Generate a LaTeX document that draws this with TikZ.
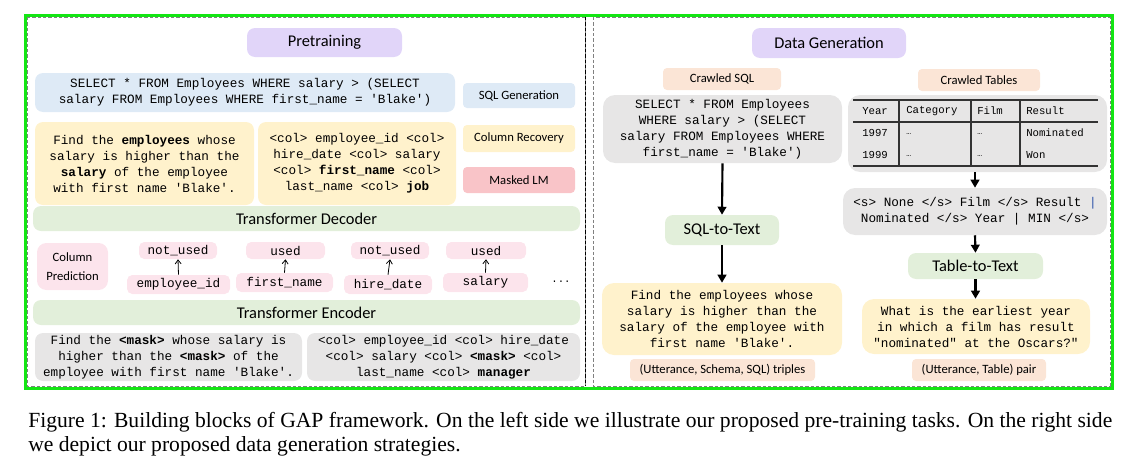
\documentclass[tikz,border=0pt]{standalone}
\usepackage{fontspec}
\setmainfont{Liberation Serif}
\setsansfont{Carlito}
\setmonofont{Liberation Mono}
\usetikzlibrary{arrows.meta}
\definecolor{cPurple}{RGB}{225,213,249}
\definecolor{cBlue}{RGB}{222,234,246}
\definecolor{cYellow}{RGB}{255,242,204}
\definecolor{cRed}{RGB}{249,196,200}
\definecolor{cPink}{RGB}{252,228,236}
\definecolor{cGreenF}{RGB}{226,239,218}
\definecolor{cGray}{RGB}{231,230,230}
\definecolor{cPeach}{RGB}{251,229,214}
\definecolor{cFrame}{RGB}{20,230,20}
\definecolor{cBar}{RGB}{47,85,170}
\tikzset{
  bx/.style={rounded corners=6pt, inner sep=0pt, align=center},
  bw/.style={minimum width=#1*0.75pt},
  bh/.style={minimum height=#1*0.75pt},
  mono/.style={font=\ttfamily\fontsize{9.5}{12}\selectfont},
  smono/.style={font=\ttfamily\fontsize{8}{10}\selectfont},
  bigsans/.style={font=\sffamily\fontsize{12.3}{14}\selectfont},
  smallsans/.style={font=\sffamily\fontsize{9.5}{11}\selectfont},
  purpbox/.style={bx, fill=cPurple, bigsans},
  bluebox/.style={bx, fill=cBlue},
  yelbox/.style={bx, fill=cYellow},
  redbox/.style={bx, fill=cRed},
  pinkbox/.style={bx, fill=cPink, rounded corners=4pt},
  grnbox/.style={bx, fill=cGreenF, bigsans},
  graybox/.style={bx, fill=cGray},
  peachbox/.style={bx, fill=cPeach, smallsans, rounded corners=3pt},
  thinarrow/.style={-{Straight Barb[length=3pt,width=4.5pt]}, line width=0.6pt},
  flowarrow/.style={-{Triangle[length=6pt,width=6.5pt]}, line width=1.6pt},
  cellt/.style={smono, anchor=west, inner sep=0pt},
  captext/.style={anchor=base west, inner sep=0pt, font=\fontsize{16.2}{18}\selectfont},
}
\begin{document}
\begin{tikzpicture}[x=0.75pt,y=-0.75pt]
\useasboundingbox (0,0) rectangle (1133,457);
% panels
\draw[dashed, dash pattern=on 2.5pt off 1.5pt, gray] (27,17) rectangle (585,386);
\draw[dashed, dash pattern=on 2.5pt off 1.5pt, black] (585,17) -- (585,386);
\draw[dashed, dash pattern=on 2.5pt off 1.5pt, gray] (593,17) rectangle (1110,386);

% ---------------- left: pretraining
\node[purpbox, bw=155, bh=29] (pre) at (324.5,42.5) {Pretraining};
\node[bluebox, mono, bw=420, bh=39] (sql) at (245,92.5) {SELECT * FROM Employees WHERE salary > (SELECT\\salary FROM Employees WHERE first\_name = 'Blake')};
\node[bluebox, smallsans, bw=112, bh=25, rounded corners=3pt] (sqlgen) at (519,95.5) {SQL Generation};
\node[yelbox, mono, bw=219, bh=83] (q1) at (144.5,163.5) {Find the \textbf{employees} whose\\salary is higher than the\\\textbf{salary} of the employee\\with first name 'Blake'.};
\node[yelbox, mono, bw=198, bh=83] (cols1) at (357,163.5) {<col> employee\_id <col>\\hire\_date <col> salary\\<col> \textbf{first\_name} <col>\\last\_name <col> \textbf{job}};
\node[yelbox, smallsans, bw=112, bh=27, rounded corners=3pt] (colrec) at (519,138.5) {Column Recovery};
\node[redbox, smallsans, bw=112, bh=26, rounded corners=3pt] (mlm) at (519,180) {Masked LM};
\node[grnbox, bw=547, bh=25] (dec) at (306.5,218.5) {Transformer Decoder};
\node[pinkbox, font=\sffamily\fontsize{9.5}{14}\selectfont, bw=71, bh=47, rounded corners=7pt] (colpred) at (72.5,266.5) {Column\\Prediction};
\node[pinkbox, mono, bw=78, bh=17] (u1) at (178,250.5) {not\_used};
\node[pinkbox, mono, bw=79, bh=17] (u2) at (285.5,250.5) {used};
\node[pinkbox, mono, bw=78, bh=17] (u3) at (390,250.5) {not\_used};
\node[pinkbox, mono, bw=80, bh=17] (u4) at (486,250.5) {used};
\node[pinkbox, mono, bw=103, bh=19] (c1) at (178.5,284.5) {employee\_id};
\node[pinkbox, mono, bw=97, bh=19] (c2) at (284.5,282.5) {first\_name};
\node[pinkbox, mono, bw=88, bh=19] (c3) at (388,284.5) {hire\_date};
\node[pinkbox, mono, bw=85, bh=19] (c4) at (485.5,282.5) {salary};
\node[smono, inner sep=0pt] (dots) at (561,282) {...};
\draw[thinarrow] (c1.north) -- (u1.south);
\draw[thinarrow] (c2.north) -- (u2.south);
\draw[thinarrow] (c3.north) -- (u3.south);
\draw[thinarrow] (c4.north) -- (u4.south);
\node[grnbox, bw=547, bh=25] (enc) at (306.5,312.5) {Transformer Encoder};
\node[graybox, mono, bw=267, bh=48] (in1) at (168.5,357) {Find the \textbf{<mask>} whose salary is\\higher than the \textbf{<mask>} of the\\employee with first name 'Blake'.};
\node[graybox, mono, bw=273, bh=48] (in2) at (443.5,357) {<col> employee\_id <col> hire\_date\\<col> salary <col> \textbf{<mask>} <col>\\last\_name <col> \textbf{manager}};

% ---------------- right: data generation
\node[purpbox, bw=154, bh=30] (dg) at (829,43) {Data Generation};
\node[peachbox, bw=118, bh=22] (csql) at (722,79) {Crawled SQL};
\node[peachbox, bw=122, bh=22] (ctab) at (979,80) {Crawled Tables};
\node[graybox, mono, bw=239, bh=68, rounded corners=9pt] (sql2) at (722.5,129) {SELECT * FROM Employees\\WHERE salary > (SELECT\\salary FROM Employees WHERE\\first\_name = 'Blake')};
\node[graybox, bw=259, bh=77, rounded corners=9pt] (tab) at (977.5,133.5) {};
% table inside
\draw[line width=0.9pt, black!80] (853,100) -- (1098,100);
\draw[line width=0.9pt, black!80] (853,122) -- (1098,122);
\draw[line width=0.9pt, black!80] (853,166) -- (1098,166);
\draw[line width=0.9pt, black!80] (899,100) -- (899,166);
\draw[line width=0.9pt, black!80] (971,100) -- (971,166);
\draw[line width=0.9pt, black!80] (1020,100) -- (1020,166);
\node[cellt] (h1) at (862,111) {Year};
\node[cellt] (h2) at (906,111) {Category};
\node[cellt] (h3) at (977,111) {Film};
\node[cellt] (h4) at (1026,111) {Result};
\node[cellt] (r11) at (862,133) {1997};
\node[cellt] (r12) at (906,134) {\fontsize{6}{7}\selectfont\ldots};
\node[cellt] (r13) at (977,134) {\fontsize{6}{7}\selectfont\ldots};
\node[cellt] (r14) at (1026,133) {Nominated};
\node[cellt] (r21) at (862,155) {1999};
\node[cellt] (r22) at (906,156) {\fontsize{6}{7}\selectfont\ldots};
\node[cellt] (r23) at (977,156) {\fontsize{6}{7}\selectfont\ldots};
\node[cellt] (r24) at (1026,155) {Won};
\node[grnbox, bw=114, bh=30] (s2t) at (722,230) {SQL-to-Text};
\node[yelbox, mono, bw=240, bh=72, rounded corners=9pt] (out1) at (722,319) {Find the employees whose\\salary is higher than the\\salary of the employee with\\first name 'Blake'.};
\node[peachbox, bw=185, bh=22] (trip) at (722.5,370) {(Utterance, Schema, SQL) triples};
\node[graybox, mono, bw=264, bh=47, rounded corners=9pt] (lin) at (975,211.5) {<s> None </s> Film </s> Result \textcolor{cBar}{|}\\Nominated </s> Year | MIN </s>};
\node[grnbox, bw=135, bh=26] (t2t) at (975.5,266) {Table-to-Text};
\node[yelbox, mono, bw=228, bh=55, rounded corners=9pt] (out2) at (976,326.5) {What is the earliest year\\in which a film has result\\"nominated" at the Oscars?"};
\node[peachbox, bw=134, bh=22] (pair) at (979,370) {(Utterance, Table) pair};
\draw[flowarrow] (sql2.south) -- (s2t.north);
\draw[flowarrow] (s2t.south) -- (out1.north);
\draw[flowarrow] (lin.north |- tab.south) -- (lin.north);
\draw[flowarrow] (lin.south) -- (t2t.north);
\draw[flowarrow] (t2t.south) -- (out2.north -| t2t.south);

% outer frame
\draw[line width=2.25pt, cFrame] (25,15) rectangle (1112,388);

% caption
\node[captext] (cap1) at (28,427) {Figure 1: Building blocks of GAP framework. On the left side we illustrate our proposed pre-training tasks. On the right side};
\node[captext] (cap2) at (28,451) {we depict our proposed data generation strategies.};
\end{tikzpicture}
\end{document}
